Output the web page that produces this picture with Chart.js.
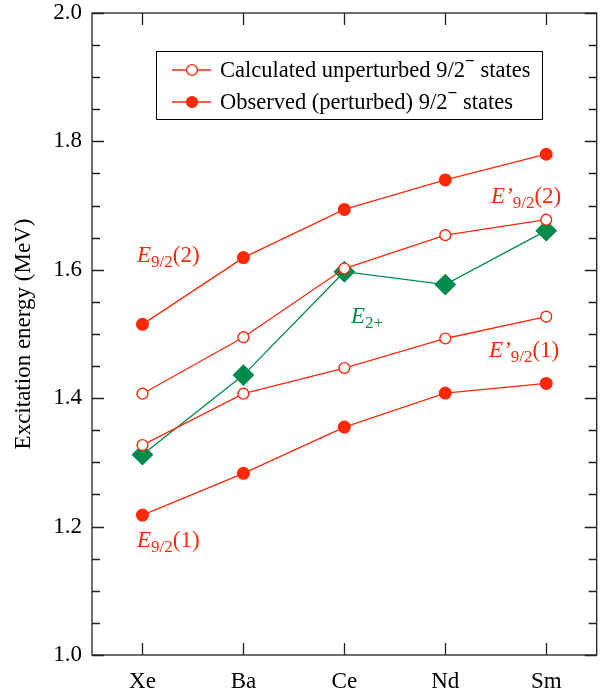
<!doctype html>
<html lang="en">
  <head>
    <meta charset="utf-8">
    <script src="https://cdn.jsdelivr.net/npm/chart.js@4.4.0/dist/chart.umd.min.js"></script>
    <title>Excitation energy</title>
    <style>
      html, body { margin: 0; padding: 0; background: #fff; }
      #wrap { width: 608px; height: 689px; }
    </style>
  </head>
  <body>
    <div id="wrap"><canvas id="grafica" width="608" height="689"></canvas></div>

  <script>
    // datos
    const elementos = ['Xe', 'Ba', 'Ce', 'Nd', 'Sm'];
    const obsAlto   = [1.515, 1.619, 1.694, 1.740, 1.780];
    const calcAlto  = [1.407, 1.495, 1.602, 1.654, 1.678];
    const calcBajo  = [1.327, 1.407, 1.447, 1.493, 1.527];
    const obsBajo   = [1.218, 1.283, 1.355, 1.408, 1.423];
    const e2mas     = [1.312, 1.436, 1.597, 1.577, 1.661];
    const yMarcas   = [1.0, 1.2, 1.4, 1.6, 1.8, 2.0];

    const rojo = 'rgb(255,40,8)';
    const verde = 'rgb(0,138,76)';
    const fuente = '"Liberation Serif", "Times New Roman", serif';

    const serieRoja = (data, lleno) => ({
      data: data,
      borderColor: rojo,
      borderWidth: 1.3,
      backgroundColor: lleno ? rojo : '#fff',
      pointBackgroundColor: lleno ? rojo : '#fff',
      pointBorderColor: rojo,
      pointBorderWidth: 1.4,
      pointRadius: lleno ? 5.8 : 5.4,
      pointStyle: 'circle',
      tension: 0
    });

    // texto con subindice tipo E_{9/2}(2)
    function etiqueta(ctx, x, y, partes, color) {
      ctx.save();
      ctx.fillStyle = color;
      ctx.textBaseline = 'alphabetic';
      ctx.textAlign = 'left';
      let cx = x;
      partes.forEach(p => {
        ctx.font = (p.italic ? 'italic ' : '') + p.size + 'px ' + fuente;
        ctx.fillText(p.t, cx, y + (p.dy || 0));
        cx += ctx.measureText(p.t).width;
      });
      ctx.restore();
    }

    const sinPadding = s => {
      s.paddingTop = 0; s.paddingBottom = 0;
      s.paddingLeft = 0; s.paddingRight = 0;
    };

    const extras = {
      id: 'extras',
      afterDraw(chart) {
        const ctx = chart.ctx;
        const a = chart.chartArea;
        const xs = chart.scales.x;
        const ys = chart.scales.y;

        // ejes en los cuatro lados
        ctx.save();
        ctx.strokeStyle = '#222';
        ctx.lineWidth = 1.3;
        ctx.strokeRect(a.left, a.top, a.right - a.left, a.bottom - a.top);

        // marcas del eje y (mayores y menores), hacia dentro
        for (let v = 1.0; v <= 2.0001; v += 0.05) {
          const py = Math.round(ys.getPixelForValue(v)) + 0.5;
          const mayor = Math.abs(v * 5 - Math.round(v * 5)) < 1e-6;
          const len = mayor ? 12 : 8;
          ctx.beginPath();
          ctx.moveTo(a.left, py); ctx.lineTo(a.left + len, py);
          ctx.moveTo(a.right, py); ctx.lineTo(a.right - len, py);
          ctx.stroke();
        }
        // marcas del eje x
        elementos.forEach((e, i) => {
          const px = Math.round(xs.getPixelForValue(i)) + 0.5;
          ctx.beginPath();
          ctx.moveTo(px, a.bottom); ctx.lineTo(px, a.bottom - 12);
          ctx.moveTo(px, a.top); ctx.lineTo(px, a.top + 12);
          ctx.stroke();
        });
        ctx.restore();

        // leyenda
        ctx.save();
        ctx.strokeStyle = '#000';
        ctx.lineWidth = 1;
        ctx.strokeRect(156.5, 51.5, 386, 68);
        const filas = [
          { txt: 'Calculated unperturbed 9/2', lleno: false, y: 70 },
          { txt: 'Observed (perturbed) 9/2', lleno: true, y: 102 }
        ];
        filas.forEach(f => {
          ctx.strokeStyle = rojo;
          ctx.lineWidth = 1.3;
          ctx.beginPath();
          ctx.moveTo(172, f.y); ctx.lineTo(211, f.y);
          ctx.stroke();
          ctx.beginPath();
          ctx.arc(192, f.y, 5.4, 0, Math.PI * 2);
          ctx.fillStyle = f.lleno ? rojo : '#fff';
          ctx.fill();
          ctx.lineWidth = 1.4;
          ctx.stroke();

          ctx.fillStyle = '#000';
          ctx.textBaseline = 'middle';
          ctx.font = '22.5px ' + fuente;
          ctx.fillText(f.txt, 220, f.y + 1);
          let cx = 220 + ctx.measureText(f.txt).width;
          // superindice menos
          ctx.fillRect(cx + 1, f.y - 10, 8, 1.2);
          ctx.fillText(' states', cx + 10, f.y + 1);
        });
        ctx.restore();

        // etiquetas de las curvas
        etiqueta(ctx, 137, 262, [
          { t: 'E', italic: true, size: 23 },
          { t: '9/2', size: 17, dy: 5 },
          { t: '(2)', size: 23 }
        ], rojo);
        etiqueta(ctx, 137, 547, [
          { t: 'E', italic: true, size: 23 },
          { t: '9/2', size: 17, dy: 5 },
          { t: '(1)', size: 23 }
        ], rojo);
        etiqueta(ctx, 491, 203, [
          { t: 'E\u2019', italic: true, size: 23 },
          { t: '9/2', size: 17, dy: 5 },
          { t: '(2)', size: 23 }
        ], rojo);
        etiqueta(ctx, 489, 357, [
          { t: 'E\u2019', italic: true, size: 23 },
          { t: '9/2', size: 17, dy: 5 },
          { t: '(1)', size: 23 }
        ], rojo);
        etiqueta(ctx, 351, 323, [
          { t: 'E', italic: true, size: 23 },
          { t: '2+', size: 17, dy: 5 }
        ], verde);
      }
    };

    const canvas = document.getElementById('grafica').getContext('2d');

    const chart = new Chart(canvas, {
      type: 'line',
      data: {
        labels: elementos,
        datasets: [
          serieRoja(calcAlto, false),
          serieRoja(calcBajo, false),
          serieRoja(obsAlto, true),
          serieRoja(obsBajo, true),
          {
            data: e2mas,
            borderColor: verde,
            borderWidth: 1.3,
            backgroundColor: verde,
            pointBackgroundColor: verde,
            pointBorderColor: verde,
            pointStyle: 'rectRot',
            pointRadius: 10,
            tension: 0
          }
        ]
      },
      options: {
        responsive: false,
        animation: false,
        layout: { padding: { top: 13, right: 2, left: 0, bottom: 0 } },
        plugins: { legend: { display: false }, tooltip: { enabled: false } },
        scales: {
          x: {
            type: 'category',
            offset: true,
            grid: { display: false, drawTicks: false },
            border: { display: false },
            ticks: { color: '#000', padding: 13, font: { family: fuente, size: 23 } },
            afterFit(s) { s.height = 34; sinPadding(s); }
          },
          y: {
            min: 1.0,
            max: 2.0,
            grid: { display: false, drawTicks: false },
            border: { display: false },
            afterBuildTicks(s) { s.ticks = yMarcas.map(v => ({ value: v })); },
            ticks: {
              color: '#000',
              padding: 10,
              font: { family: fuente, size: 23 },
              callback: v => v.toFixed(1)
            },
            title: {
              display: true,
              text: 'Excitation energy (MeV)',
              color: '#000',
              padding: { top: 10, bottom: 0 },
              font: { family: fuente, size: 23 }
            },
            afterFit(s) { s.width = 92; sinPadding(s); }
          }
        }
      },
      plugins: [extras]
    });
  </script>
  </body>
</html>
